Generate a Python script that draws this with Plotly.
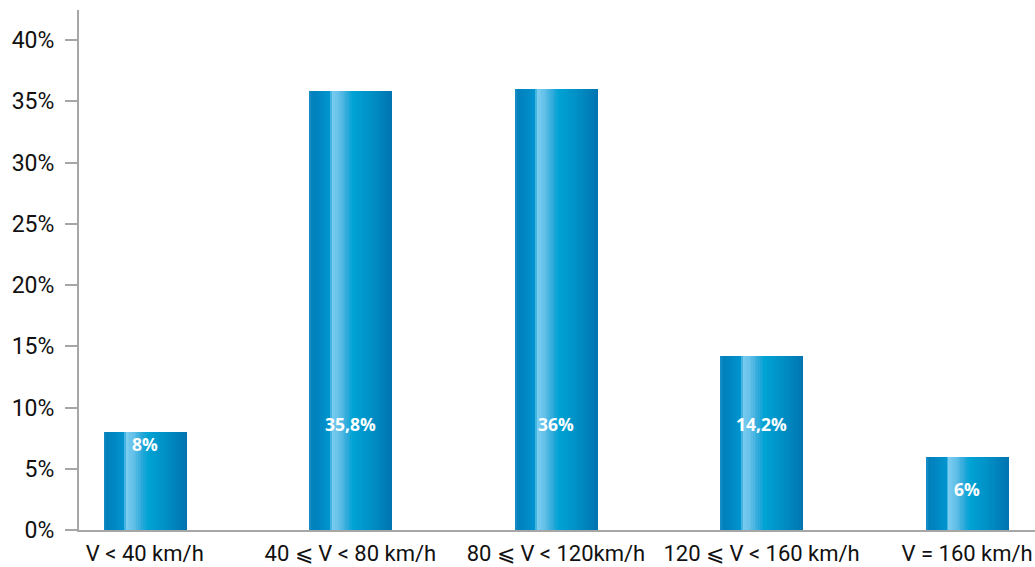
import plotly.graph_objects as go

# Speed bands and share of vehicles (%)
categories = [
    "V < 40 km/h",
    "40 ⩽ V < 80 km/h",
    "80 ⩽ V < 120km/h",
    "120 ⩽ V < 160 km/h",
    "V = 160 km/h",
]
shares = [8, 35.8, 36, 14.2, 6]
share_labels = ["8%", "35,8%", "36%", "14,2%", "6%"]

y_ticks = [0, 5, 10, 15, 20, 25, 30, 35, 40]
y_tick_text = ["0%", "5%", "10%", "15%", "20%", "25%", "30%", "35%", "40%"]

# Horizontal cylinder-like shading across each bar (fraction of width, colour)
gradient_stops = [
    (0.00, (26, 143, 200)),
    (0.04, (0, 128, 187)),
    (0.14, (0, 136, 196)),
    (0.255, (0, 150, 208)),
    (0.265, (125, 205, 240)),
    (0.36, (100, 192, 232)),
    (0.47, (40, 168, 218)),
    (0.53, (0, 163, 212)),
    (0.75, (0, 144, 198)),
    (1.00, (0, 116, 176)),
]


def shade(t):
    for (t0, c0), (t1, c1) in zip(gradient_stops, gradient_stops[1:]):
        if t0 <= t <= t1:
            f = 0 if t1 == t0 else (t - t0) / (t1 - t0)
            return "rgb(%d,%d,%d)" % tuple(round(a + (b - a) * f) for a, b in zip(c0, c1))
    return "rgb(%d,%d,%d)" % gradient_stops[-1][1]


bar_width = 0.40
n_strips = 48
strip = bar_width / n_strips

fig = go.Figure()
for k in range(n_strips):
    t = (k + 0.5) / n_strips
    fig.add_trace(
        go.Bar(
            x=categories,
            y=shares,
            width=strip * 1.35,
            offset=-bar_width / 2 + k * strip,
            marker=dict(color=shade(t), line=dict(width=0)),
            hoverinfo="skip",
            showlegend=False,
        )
    )

# Value labels inside the bars
label_y = [7.0, 8.65, 8.65, 8.65, 3.35]
for cat, txt, ly in zip(categories, share_labels, label_y):
    fig.add_annotation(
        x=cat, y=ly, text="<b>%s</b>" % txt, showarrow=False,
        font=dict(family="Open Sans, Arial, sans-serif", size=17.5, color="white"),
        xanchor="center", yanchor="middle",
    )

ytick_font = dict(family="Roboto, sans-serif", size=23, color="#111111")
xtick_font = dict(family="Roboto, sans-serif", size=22, color="#111111")

fig.update_layout(
    width=1035, height=567,
    margin=dict(l=79, r=0, t=10, b=37),
    paper_bgcolor="white", plot_bgcolor="white",
    barmode="overlay", bargap=0,
    xaxis=dict(
        type="category", range=[-0.32, 4.33],
        showline=True, linecolor="#a6a6a6", linewidth=2,
        showgrid=False, ticks="", tickfont=xtick_font, zeroline=False,
        tickangle=0, automargin=False, ticklabelstandoff=3,
        fixedrange=True,
    ),
    yaxis=dict(
        range=[0, 42.45], tickvals=y_ticks, ticktext=y_tick_text,
        showline=True, linecolor="#a6a6a6", linewidth=2,
        ticks="outside", ticklen=12, tickwidth=2, tickcolor="#a6a6a6",
        showgrid=False, zeroline=False, tickfont=ytick_font,
        ticklabelstandoff=6, automargin=False, fixedrange=True,
    ),
)

fig.write_html("out.html")
